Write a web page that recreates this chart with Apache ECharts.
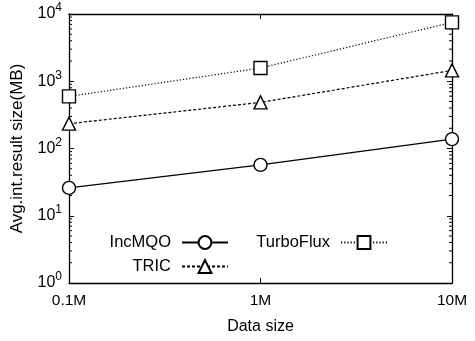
<!DOCTYPE html>
<html>
<head>
<meta charset="utf-8">
<script src="https://cdn.jsdelivr.net/npm/echarts@6/dist/echarts.min.js"></script>
<style>
  html, body { margin: 0; padding: 0; background: #fff; }
  #chart { width: 475px; height: 341px; }
</style>
</head>
<body>
<div id="chart"></div>
<script>
// Average intermediate result size per method, over three data sizes
const dataSizes = ['0.1M', '1M', '10M'];
const incMQO = [26, 57, 138];
const tric = [234, 485, 1450];
const turboFlux = [595, 1574, 7500];

const FONT = '"Liberation Sans", Arial, sans-serif';

const chart = echarts.init(document.getElementById('chart'), null, { renderer: 'canvas' });

const powLabel = v => '{b|10}{e|' + Math.round(Math.log10(v)) + '}';

// minor tick values 2..9 within each decade of the y range
const minorTickValues = [];
for (let d = 0; d < 4; d++) {
  for (let k = 2; k <= 9; k++) minorTickValues.push(k * Math.pow(10, d));
}

function frameLine() {
  return { show: true, onZero: false, lineStyle: { color: '#000', width: 1.3 } };
}
function inTick(len) {
  return { show: true, inside: true, length: len, lineStyle: { color: '#000', width: 1 } };
}

function lineSeries(name, data, symbol, dash) {
  return {
    name: name,
    type: 'line',
    data: data,
    symbol: symbol,
    symbolSize: 13,
    showSymbol: true,
    animation: false,
    z: 3,
    lineStyle: { color: '#000', width: 1.2, type: dash },
    itemStyle: { color: '#fff', borderColor: '#000', borderWidth: 1.4 },
    emphasis: { disabled: true }
  };
}

function legendFor(name, right, top) {
  return {
    data: [name],
    right: right,
    top: top,
    align: 'right',
    itemWidth: 46,
    itemHeight: 16,
    itemGap: 6,
    selectedMode: false,
    textStyle: { fontFamily: FONT, fontSize: 16.5, color: '#000', padding: [0, 6, 0, 0] }
  };
}

// short inward ticks on the left and right frame edges at the minor log values
const minorTicks = {
  type: 'custom',
  silent: true,
  clip: false,
  z: 1,
  data: minorTickValues,
  encode: { y: 0 },
  renderItem: function (params, api) {
    const v = api.value(0);
    const left = api.coord([0, v]);
    const right = api.coord([dataSizes.length - 1, v]);
    const style = { stroke: '#000', lineWidth: 1 };
    return {
      type: 'group',
      children: [
        { type: 'line', shape: { x1: left[0], y1: left[1], x2: left[0] + 3, y2: left[1] }, style: style },
        { type: 'line', shape: { x1: right[0] - 3, y1: right[1], x2: right[0], y2: right[1] }, style: style }
      ]
    };
  }
};

chart.setOption({
  backgroundColor: '#fff',
  animation: false,
  grid: { left: 69, right: 23, top: 14, bottom: 58, containLabel: false },
  legend: [
    legendFor('IncMQO', 241, 229),
    legendFor('TRIC', 241, 253),
    legendFor('TurboFlux', 82, 229)
  ],
  xAxis: [
    {
      type: 'category',
      data: dataSizes,
      boundaryGap: false,
      position: 'bottom',
      name: 'Data size',
      nameLocation: 'middle',
      nameGap: 36,
      nameTextStyle: { fontFamily: FONT, fontSize: 16, color: '#000' },
      axisLine: frameLine(),
      axisTick: inTick(5),
      axisLabel: { fontFamily: FONT, fontSize: 15.5, color: '#000', margin: 10 },
      splitLine: { show: false }
    },
    {
      type: 'category',
      data: dataSizes,
      boundaryGap: false,
      position: 'top',
      axisLine: frameLine(),
      axisTick: inTick(5),
      axisLabel: { show: false },
      splitLine: { show: false }
    }
  ],
  yAxis: [
    {
      type: 'log',
      logBase: 10,
      min: 1,
      max: 10000,
      position: 'left',
      name: 'Avg.int.result size(MB)',
      nameLocation: 'middle',
      nameGap: 43,
      nameTextStyle: { fontFamily: FONT, fontSize: 17, color: '#000' },
      axisLine: frameLine(),
      axisTick: inTick(5),
      axisLabel: {
        fontFamily: FONT,
        color: '#000',
        margin: 7,
        formatter: powLabel,
        rich: {
          b: { fontFamily: FONT, fontSize: 16, lineHeight: 24, color: '#000' },
          e: { fontFamily: FONT, fontSize: 12, verticalAlign: 'top', color: '#000' }
        }
      },
      splitLine: { show: false }
    },
    {
      type: 'log',
      logBase: 10,
      min: 1,
      max: 10000,
      position: 'right',
      axisLine: frameLine(),
      axisTick: inTick(5),
      axisLabel: { show: false },
      splitLine: { show: false }
    }
  ],
  series: [
    minorTicks,
    lineSeries('IncMQO', incMQO, 'circle', 'solid'),
    lineSeries('TRIC', tric, 'triangle', [3, 2]),
    lineSeries('TurboFlux', turboFlux, 'rect', [1.2, 2])
  ]
});
</script>
</body>
</html>
